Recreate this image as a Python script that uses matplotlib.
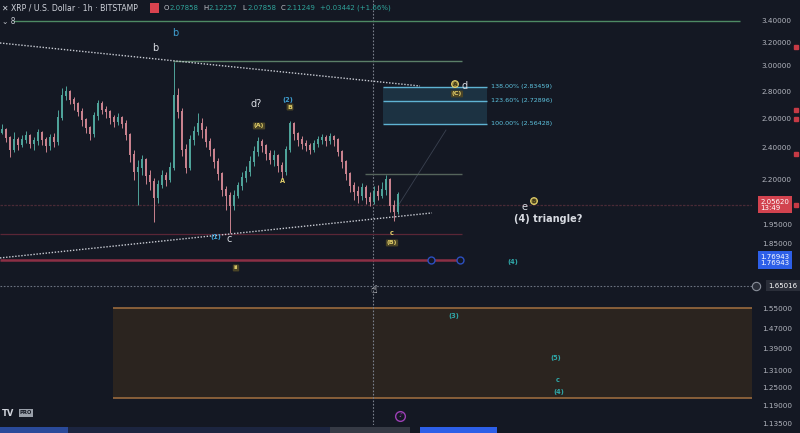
import matplotlib
matplotlib.use("Agg")
import matplotlib.pyplot as plt
from matplotlib.patches import Rectangle
from matplotlib.ticker import NullLocator
import numpy as np

# XRP / USD 1h candles (open = previous close)
first_open = 2.500
closes = [2.520, 2.466, 2.387, 2.453, 2.419, 2.453, 2.479, 2.426, 2.446, 2.500,
          2.453, 2.413, 2.466, 2.439, 2.604, 2.765, 2.795, 2.735, 2.705, 2.647,
          2.590, 2.534, 2.493, 2.618, 2.705, 2.661, 2.647, 2.604, 2.576, 2.604,
          2.562, 2.486, 2.354, 2.248, 2.273, 2.323, 2.224, 2.188, 2.094, 2.170,
          2.224, 2.200, 2.273, 2.772, 2.647, 2.387, 2.273, 2.453, 2.507, 2.562,
          2.520, 2.439, 2.387, 2.310, 2.236, 2.141, 2.106, 2.049, 2.106, 2.164,
          2.212, 2.248, 2.310, 2.374, 2.439, 2.413, 2.361, 2.323, 2.348, 2.285,
          2.248, 2.387, 2.562, 2.493, 2.453, 2.426, 2.413, 2.387, 2.426, 2.453,
          2.466, 2.446, 2.473, 2.453, 2.374, 2.310, 2.236, 2.164, 2.129, 2.106,
          2.152, 2.094, 2.072, 2.129, 2.106, 2.141, 2.200, 2.049, 2.016, 2.112]
highs = [2.562, 2.534, 2.479, 2.507, 2.473, 2.486, 2.513, 2.493, 2.473, 2.527,
         2.513, 2.473, 2.493, 2.500, 2.661, 2.826, 2.841, 2.810, 2.757, 2.720,
         2.676, 2.604, 2.548, 2.647, 2.735, 2.727, 2.690, 2.661, 2.625, 2.640,
         2.618, 2.590, 2.500, 2.387, 2.323, 2.354, 2.335, 2.260, 2.212, 2.200,
         2.260, 2.248, 2.310, 3.033, 2.826, 2.676, 2.426, 2.486, 2.548, 2.640,
         2.604, 2.548, 2.466, 2.400, 2.335, 2.248, 2.164, 2.129, 2.141, 2.188,
         2.248, 2.285, 2.348, 2.413, 2.473, 2.459, 2.426, 2.387, 2.387, 2.361,
         2.310, 2.413, 2.583, 2.576, 2.507, 2.479, 2.453, 2.433, 2.453, 2.479,
         2.493, 2.486, 2.500, 2.486, 2.466, 2.387, 2.323, 2.248, 2.188, 2.164,
         2.182, 2.170, 2.129, 2.164, 2.170, 2.188, 2.230, 2.212, 2.083, 2.129]
lows = [2.493, 2.439, 2.342, 2.374, 2.387, 2.406, 2.433, 2.400, 2.387, 2.419,
        2.419, 2.374, 2.387, 2.406, 2.419, 2.590, 2.735, 2.705, 2.661, 2.618,
        2.548, 2.500, 2.453, 2.473, 2.590, 2.632, 2.604, 2.562, 2.541, 2.555,
        2.534, 2.453, 2.310, 2.200, 2.055, 2.230, 2.176, 2.141, 1.962, 2.066,
        2.152, 2.164, 2.188, 2.260, 2.604, 2.348, 2.242, 2.260, 2.419, 2.486,
        2.466, 2.406, 2.348, 2.273, 2.200, 2.106, 2.027, 1.904, 2.027, 2.094,
        2.141, 2.188, 2.224, 2.285, 2.348, 2.374, 2.323, 2.297, 2.285, 2.248,
        2.212, 2.230, 2.374, 2.453, 2.413, 2.393, 2.380, 2.361, 2.374, 2.406,
        2.426, 2.413, 2.426, 2.413, 2.348, 2.273, 2.200, 2.129, 2.083, 2.066,
        2.083, 2.060, 2.049, 2.060, 2.083, 2.094, 2.112, 2.016, 1.967, 2.005]

price_ticks = [3.40, 3.20, 3.00, 2.80, 2.60, 2.40, 2.20, 1.95, 1.85,
               1.55, 1.47, 1.39, 1.31, 1.25, 1.19, 1.135]

fib_levels = [2.83459, 2.72896, 2.56428]
fib_pcts = ["138.00%", "123.60%", "100.00%"]

last_price = 2.05620
support_price = 1.76943
alert_price = 1.65016
top_line = 3.391
b_line = 3.041
c_line = 1.899
box_high = 2.236
zone_top, zone_bottom = 1.552, 1.215

upper_trend_x, upper_trend_y = [-0.5, 104.5], [3.194, 2.841]
lower_trend_x, lower_trend_y = [-0.5, 107.5], [1.779, 2.011]

# wave labels: text, bar index, price, colour, style
white, blue, yellow, teal = "#d8dbe2", "#3f9fd1", "#e3cf6a", "#2fa7a8"
wave_labels = [
    ("b", 43.25, 3.282, blue, "plain"),
    ("b", 38.25, 3.151, white, "plain"),
    ("d?", 63.5, 2.705, white, "plain"),
    ("(2)", 71.5, 2.735, blue, "small"),
    ("B", 72.0, 2.683, yellow, "box"),
    ("(A)", 64.25, 2.548, yellow, "box"),
    ("A", 70.25, 2.194, yellow, "small"),
    ("(1)", 53.5, 1.883, blue, "small"),
    ("c", 56.75, 1.873, white, "plain"),
    ("ii", 58.5, 1.731, yellow, "box"),
    ("c", 97.5, 1.904, yellow, "small"),
    ("(B)", 97.5, 1.853, yellow, "box"),
    ("A", 113.25, 2.856, yellow, "circle"),
    ("d", 115.6, 2.838, white, "plain"),
    ("(C)", 113.75, 2.780, yellow, "box"),
    ("e", 130.75, 2.044, white, "plain"),
    ("B", 133.0, 2.077, yellow, "circle"),
    ("(4)", 127.75, 1.760, teal, "small"),
    ("(3)", 113.0, 1.519, teal, "small"),
    ("(5)", 138.5, 1.355, teal, "small"),
    ("c", 139.0, 1.276, teal, "small"),
    ("(4)", 139.25, 1.235, teal, "small"),
]

bg = "#141823"
up_col, down_col = "#4fa39a", "#c9828e"

fig = plt.figure(figsize=(8, 4.33), dpi=100, facecolor=bg)
ax = fig.add_axes([0, 8 / 433, 752 / 800, 425 / 433])
ax.set_facecolor(bg)
ax.set_yscale("log")
ax.set_ylim(1.1289, 3.5905)
ax.set_xlim(-0.5, 187.5)

# brown target zone
ax.add_patch(Rectangle((27.75, zone_bottom), 200, zone_top - zone_bottom,
                       facecolor="#2b241f", edgecolor="none", zorder=0))
ax.hlines([zone_top, zone_bottom], 27.75, 200, color="#9a6a3e", lw=1.2, zorder=1)

# fib box
ax.add_patch(Rectangle((95.25, fib_levels[2]), 26, fib_levels[0] - fib_levels[2],
                       facecolor="#1c3242", edgecolor="none", zorder=0.5))
ax.hlines(fib_levels, 95.25, 121.25, color="#5fb3d3", lw=1.0, zorder=1)
for lvl, pct in zip(fib_levels, fib_pcts):
    ax.text(122.3, lvl, f"{pct} ({lvl:.5f})", color="#5ec4e0", fontsize=4.6,
            va="center", ha="left")

# horizontal lines
ax.hlines(top_line, 2.75, 184.5, color="#4e8a64", lw=1.0)
ax.hlines(b_line, 42.75, 115, color="#5b7f68", lw=1.0)
ax.axhline(last_price, color="#4a2a36", lw=0.9, ls=(0, (2, 1)))
ax.axhline(alert_price, color="#6b7280", lw=0.8, ls=(0, (1.5, 1.5)))
ax.hlines(c_line, -0.5, 115, color="#5a2636", lw=0.9)
ax.hlines(box_high, 90.75, 115, color="#55645b", lw=1.0)
ax.hlines(support_price, -0.5, 114.5, color="#8c2f45", lw=1.8, zorder=2)
ax.plot([107.25, 114.5], [support_price, support_price], "o", ms=5,
        mfc=bg, mec="#2c4fc0", mew=1.0, zorder=3)

# faint projection line towards target
ax.plot([99, 111], [2.05, 2.52], color="#3a4150", lw=0.6, zorder=0.5)

# trend lines
ax.plot(upper_trend_x, upper_trend_y, color="#c9ccd4", lw=1.0, ls=(0, (1, 1.2)))
ax.plot(lower_trend_x, lower_trend_y, color="#c9ccd4", lw=1.0, ls=(0, (1, 1.2)))

# crosshair
ax.axvline(92.75, color="#7a808c", lw=0.8, ls=(0, (1.5, 1.5)), zorder=1)

# candles
opens = [first_open] + closes[:-1]
idx = np.arange(len(closes))
o = np.array(opens)
c = np.array(closes)
cols = [up_col if cc >= oo else down_col for oo, cc in zip(o, c)]
ax.vlines(idx, lows, highs, colors=cols, lw=0.7, zorder=3)
ax.bar(idx, np.abs(c - o) + 0.004, bottom=np.minimum(o, c), width=0.6,
       color=cols, zorder=4)

# wave labels
for txt, x, y, col, style in wave_labels:
    if style == "plain":
        ax.text(x, y, txt, color=col, fontsize=7, ha="center", va="center", zorder=6)
    elif style == "small":
        ax.text(x, y, txt, color=col, fontsize=4.8, ha="center", va="center",
                fontweight="bold", zorder=6)
    elif style == "box":
        ax.text(x, y, txt, color=col, fontsize=4.6, ha="center", va="center",
                fontweight="bold", zorder=6,
                bbox=dict(boxstyle="round,pad=0.15", fc="#4a4426", ec="none"))
    else:
        ax.text(x, y, txt, color="#3a3418", fontsize=4.2, ha="center", va="center",
                fontweight="bold", zorder=6,
                bbox=dict(boxstyle="circle,pad=0.15", fc="#8c7d3a", ec=col, lw=0.8))

ax.text(136.5, 1.978, "(4) triangle?", color=white, fontsize=7, fontweight="bold",
        ha="center", va="center")

# cursor and alert icon
ax.text(93.0, 1.632, "☝", color="white", fontsize=8, ha="center", va="center", zorder=7)
ax.plot(99.5, 1.157, "o", ms=7, mfc="none", mec="#9c3fb5", mew=1.0)
ax.text(99.5, 1.157, "♪", color="#9c3fb5", fontsize=4.5, ha="center", va="center")

# price axis
ax.yaxis.tick_right()
ax.yaxis.set_minor_locator(NullLocator())
ax.set_yticks(price_ticks)
ax.set_yticklabels([f"{p:.5f}" for p in price_ticks])
ax.tick_params(axis="y", length=0, pad=7, labelsize=5.2, labelcolor="#b2b5be")
ax.set_xticks([])
for s in ax.spines.values():
    s.set_visible(False)

ytr = ax.get_yaxis_transform()
ax.text(1.011, last_price, f"{last_price:.5f}\n13:49", transform=ytr, fontsize=5,
        color="white", ha="left", va="center", linespacing=1.1, clip_on=False,
        bbox=dict(boxstyle="square,pad=0.35", fc="#d2434f", ec="none"))
ax.text(1.011, support_price, f"{support_price:.5f}\n{support_price:.5f}", transform=ytr,
        fontsize=5, color="white", ha="left", va="center", linespacing=1.1,
        clip_on=False, bbox=dict(boxstyle="square,pad=0.35", fc="#2d5fe8", ec="none"))
ax.text(1.022, alert_price, f"{alert_price:.5f}", transform=ytr, fontsize=5,
        color="white", ha="left", va="center", clip_on=False,
        bbox=dict(boxstyle="square,pad=0.35", fc="#2a2e39", ec="none"))
ax.plot([1.005], [alert_price], "o", ms=6, mfc="#2a2e39", mec="#8a8f9a", mew=0.8,
        transform=ytr, clip_on=False)

# alert marks at right edge
for p in [3.16, 2.66, 2.60, 2.36, last_price]:
    ax.plot([1.059], [p], "s", ms=3, color="#c63a45", transform=ytr, clip_on=False)

# header
hy = 1 - 8 / 433
fig.text(0.003, hy, "✕ XRP / U.S. Dollar · 1h · BITSTAMP", color="#d1d4dc",
         fontsize=5.6, va="center")
fig.add_artist(Rectangle((150 / 800, 1 - 13 / 433), 9 / 800, 10 / 433,
                         transform=fig.transFigure, fc="#d9434f", ec="none"))
ohlc = [("O", "2.07858"), ("H", "2.12257"), ("L", "2.07858"), ("C", "2.11249")]
xpos = 164
for k, v in ohlc:
    fig.text(xpos / 800, hy, k, color="#c4c7ce", fontsize=5.0, va="center")
    fig.text((xpos + 6) / 800, hy, v, color="#2fa39a", fontsize=5.0, va="center")
    xpos += 39
fig.text(xpos / 800, hy, "+0.03442 (+1.66%)", color="#2fa39a", fontsize=5.0,
         va="center")
fig.text(0.003, 1 - 21 / 433, "⌄ 8", color="#c4c7ce", fontsize=5.5, va="center")

# logo and time axis strip
fig.text(0.002, 20 / 433, "TV", color="#d1d4dc", fontsize=6, fontweight="bold", va="center")
fig.text(20 / 800, 20 / 433, "PRO", color="#131722", fontsize=3.8, fontweight="bold",
         va="center", bbox=dict(boxstyle="square,pad=0.2", fc="#9aa0aa", ec="none"))
for x0, w, colr in [(0, 68, "#2a4a9a"), (68, 262, "#1c2540"), (330, 80, "#363a45"),
                    (420, 77, "#2d5fe8")]:
    fig.add_artist(Rectangle((x0 / 800, 0), w / 800, 6 / 433, transform=fig.transFigure,
                             fc=colr, ec="none"))

fig.savefig("out.png", dpi=100, facecolor=bg)
